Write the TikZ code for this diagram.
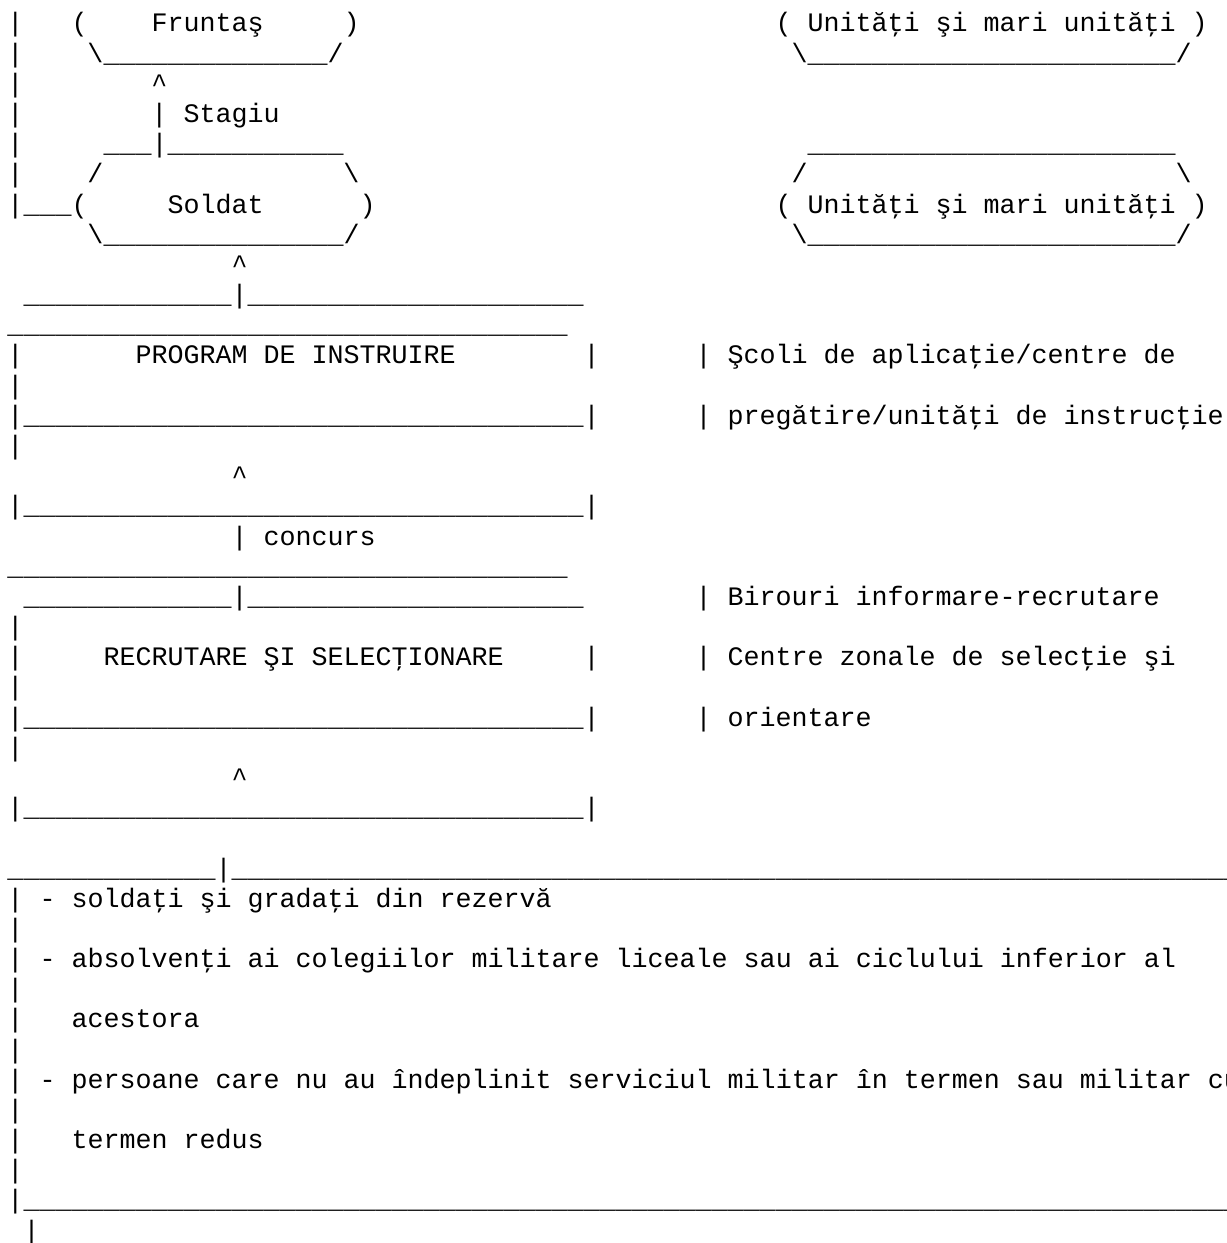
\documentclass[tikz,border=0pt]{standalone}
\usepackage{fontspec}
\setmonofont{Liberation Mono}
\newcommand{\unders}[1]{\foreach \i in {1,...,#1}{\_}}
\tikzset{asc/.style={anchor=base west, inner sep=0pt, outer sep=0pt, text=black,
  font=\ttfamily\fontsize{7.59pt}{9pt}\selectfont}}
\begin{document}
\begin{tikzpicture}
                \useasboundingbox (0,0) rectangle (12.270000,12.430000);

                % Row 1: Fruntas box and first units box, top
                \node[asc] (bar00) at (0.075000,12.110000) {|};
                \node[asc] (fruntas) at (0.715000,12.110000) {(~~~~Fruntaş~~~~~)};
                \node[asc] (unitA) at (7.755000,12.110000) {(~Unităţi şi mari unităţi~)};

                % Row 2: lower edges
                \node[asc] (bar01) at (0.075000,11.808000) {|};
                \node[asc] (fruntasLow) at (0.875000,11.808000) {\textbackslash\unders{14}/};
                \node[asc] (unitALow) at (7.915000,11.808000) {\textbackslash\unders{23}/};

                % Row 3: arrow head up to Fruntas
                \node[asc] (bar02) at (0.075000,11.506000) {|};
                \node[asc] (tipA) at (1.515000,11.506000) {\textasciicircum};

                % Row 4: Stagiu
                \node[asc] (bar03) at (0.075000,11.205000) {|};
                \node[asc] (stagiu) at (1.515000,11.205000) {|~Stagiu};

                % Row 5: Soldat box and second units box, top
                \node[asc] (bar04) at (0.075000,10.903000) {|};
                \node[asc] (soldatTop) at (1.035000,10.903000) {\unders{3}|\unders{11}};
                \node[asc] (unitBTop) at (8.075000,10.903000) {\unders{23}};

                % Row 6: upper slants
                \node[asc] (bar05) at (0.075000,10.601000) {|};
                \node[asc] (soldatUL) at (0.875000,10.601000) {/};
                \node[asc] (soldatUR) at (3.435000,10.601000) {\textbackslash};
                \node[asc] (unitBUL) at (7.915000,10.601000) {/};
                \node[asc] (unitBUR) at (11.755000,10.601000) {\textbackslash};

                % Row 7: Soldat
                \node[asc] (soldatLeft) at (0.075000,10.299000) {|\unders{3}(};
                \node[asc] (soldat) at (1.675000,10.299000) {Soldat};
                \node[asc] (soldatR) at (3.595000,10.299000) {)};
                \node[asc] (unitB) at (7.755000,10.299000) {(~Unităţi şi mari unităţi~)};

                % Row 8: lower edges
                \node[asc] (soldatLow) at (0.875000,9.997000) {\textbackslash\unders{15}/};
                \node[asc] (unitBLow) at (7.915000,9.997000) {\textbackslash\unders{23}/};

                % Row 9: arrow head up to Soldat
                \node[asc] (tipB) at (2.315000,9.696000) {\textasciicircum};

                % Row 10 - 14: instruction box
                \node[asc] (progTop) at (0.235000,9.394000) {\unders{13}|\unders{21}};
                \node[asc] (progOver) at (0.075000,9.092000) {\unders{35}};
                \node[asc] (progL) at (0.075000,8.790000) {|};
                \node[asc] (prog) at (1.355000,8.790000) {PROGRAM DE INSTRUIRE};
                \node[asc] (progR) at (5.835000,8.790000) {|};
                \node[asc] (scoliA) at (6.955000,8.790000) {| Şcoli de aplicaţie/centre de};
                \node[asc] (bar12) at (0.075000,8.488000) {|};
                \node[asc] (progBot) at (0.075000,8.187000) {|\unders{35}|};
                \node[asc] (scoliB) at (6.955000,8.187000) {| pregătire/unităţi de instrucţie};
                \node[asc] (bar14) at (0.075000,7.885000) {|};

                % Row 16 - 18: arrow head, concurs
                \node[asc] (tipC) at (2.315000,7.583000) {\textasciicircum};
                \node[asc] (concursTop) at (0.075000,7.281000) {|\unders{35}|};
                \node[asc] (concurs) at (2.315000,6.979000) {|~concurs};

                % Row 19 - 24: recruitment box
                \node[asc] (recrOver) at (0.075000,6.678000) {\unders{35}};
                \node[asc] (recrTop) at (0.235000,6.376000) {\unders{13}|\unders{21}};
                \node[asc] (birouri) at (6.955000,6.376000) {| Birouri informare-recrutare};
                \node[asc] (bar21) at (0.075000,6.074000) {|};
                \node[asc] (recrL) at (0.075000,5.772000) {|};
                \node[asc] (recr) at (1.035000,5.772000) {RECRUTARE ŞI SELECŢIONARE};
                \node[asc] (recrR) at (5.835000,5.772000) {|};
                \node[asc] (centre) at (6.955000,5.772000) {| Centre zonale de selecţie şi};
                \node[asc] (bar23) at (0.075000,5.470000) {|};
                \node[asc] (recrBot) at (0.075000,5.169000) {|\unders{35}|};
                \node[asc] (orient) at (6.955000,5.169000) {| orientare};
                \node[asc] (bar25) at (0.075000,4.867000) {|};

                % Row 26 - 27: arrow head
                \node[asc] (tipD) at (2.315000,4.565000) {\textasciicircum};
                \node[asc] (poolTop) at (0.075000,4.263000) {|\unders{35}|};

                % Row 28 - 40: candidate pool
                \node[asc] (poolOver) at (0.075000,3.660000) {\unders{13}|\unders{63}};
                \node[asc] (poolA) at (0.075000,3.358000) {| - soldaţi şi gradaţi din rezervă};
                \node[asc] (bar30) at (0.075000,3.056000) {|};
                \node[asc] (poolB) at (0.075000,2.754000) {| - absolvenţi ai colegiilor militare liceale sau ai ciclului inferior al};
                \node[asc] (bar32) at (0.075000,2.452000) {|};
                \node[asc] (poolC) at (0.075000,2.151000) {|~~~acestora};
                \node[asc] (bar34) at (0.075000,1.849000) {|};
                \node[asc] (poolD) at (0.075000,1.547000) {| - persoane care nu au îndeplinit serviciul militar în termen sau militar cu};
                \node[asc] (bar36) at (0.075000,1.245000) {|};
                \node[asc] (poolE) at (0.075000,0.943000) {|~~~termen redus};
                \node[asc] (bar38) at (0.075000,0.642000) {|};
                \node[asc] (poolBot) at (0.075000,0.340000) {|\unders{76}};
                \node[asc] (bar40) at (0.235000,0.038000) {|};
\end{tikzpicture}
\end{document}
